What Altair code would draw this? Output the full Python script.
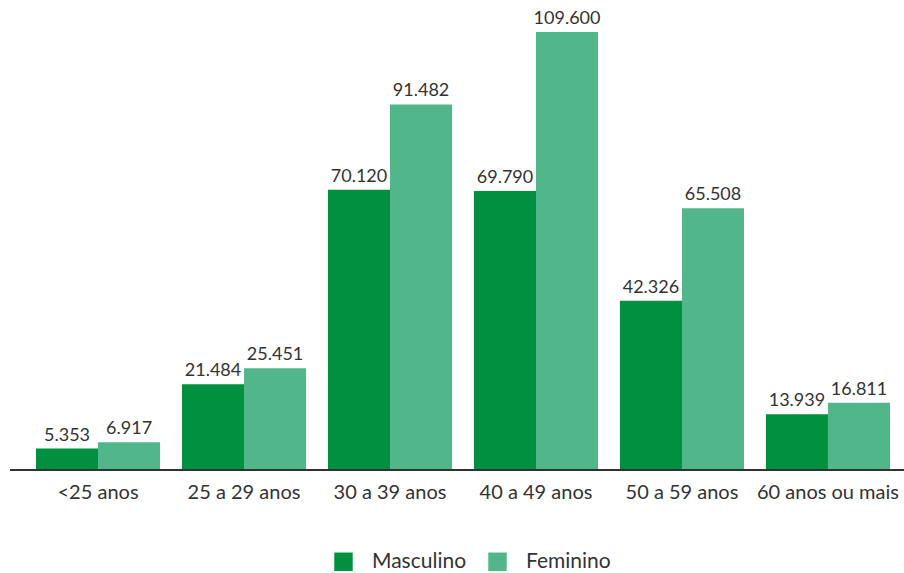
import altair as alt
import pandas as pd

categorias = ["<25 anos", "25 a 29 anos", "30 a 39 anos", "40 a 49 anos", "50 a 59 anos", "60 anos ou mais"]
masculino = [5353, 21484, 70120, 69790, 42326, 13939]
feminino = [6917, 25451, 91482, 109600, 65508, 16811]
series = ["Masculino", "Feminino"]
cores = ["#00903F", "#52B68B"]

rows = []
for c, m, f in zip(categorias, masculino, feminino):
    for s, v in zip(series, [m, f]):
        rows.append({"faixa": c, "sexo": s, "valor": v,
                     "rotulo": f"{v:,}".replace(",", ".")})
df = pd.DataFrame(rows)

FONT = "Lato"
W, H = 880, 438

base = alt.Chart(df).encode(
    x=alt.X("faixa:N", sort=categorias, title=None,
            scale=alt.Scale(paddingInner=0.15, paddingOuter=0.089),
            axis=alt.Axis(labelAngle=0, domain=False, ticks=False, labelPadding=12,
                          labelFontSize=20, labelColor="#333333", labelFont=FONT)),
    xOffset=alt.XOffset("sexo:N", sort=series, scale=alt.Scale(paddingInner=0, paddingOuter=0)),
    y=alt.Y("valor:Q", title=None, scale=alt.Scale(domain=[0, 109600], nice=False),
            axis=None),
)

bars = base.mark_bar().encode(
    color=alt.Color("sexo:N", sort=series, title=None,
                    scale=alt.Scale(domain=series, range=cores),
                    legend=alt.Legend(orient="none", direction="horizontal",
                                      legendX=310, legendY=519,
                                      symbolType="square", symbolSize=340,
                                      symbolStrokeWidth=0, symbolOpacity=1,
                                      labelFontSize=21, labelFont=FONT,
                                      labelColor="#333333", labelOffset=18,
                                      columnPadding=20))
)

labels = base.mark_text(baseline="bottom", dy=-4, fontSize=18, font=FONT, color="#333333").encode(
    text="rotulo:N"
)

baseline = alt.Chart(df).mark_rule(color="#333333", strokeWidth=1.5).encode(
    x=alt.value(-13), x2=alt.value(W + 1), y=alt.value(H)
)

chart = alt.layer(bars, labels, baseline).properties(
    width=W, height=H,
    background="white",
    autosize=alt.AutoSizeParams(type="none"),
    padding={"left": 23, "top": 32, "right": 1, "bottom": 103},
).configure_view(strokeWidth=0, stroke=None)

chart.save("out.html", embed_options={"renderer": "svg", "actions": False})
